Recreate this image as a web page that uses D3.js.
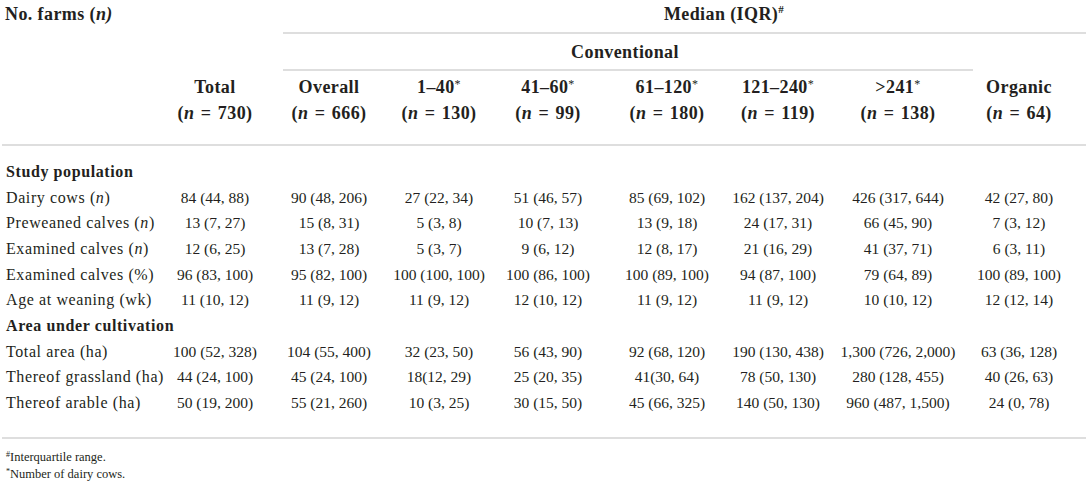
<!DOCTYPE html>
<html>
<head>
<meta charset="utf-8">
<script src="https://cdn.jsdelivr.net/npm/d3@7"></script>
<style>
  body { margin: 0; background: #fff; }
  text { font-family: "Liberation Serif", "Times New Roman", serif; fill: #231f20; }
</style>
</head>
<body>
<div id="table"></div>
<script>
var svgwidth = 1089;
var svgheight = 488;

// column groups
var columns = ["Total", "Overall", "1–40", "41–60", "61–120", "121–240", ">241", "Organic"];
var starred = [false, false, true, true, true, true, true, false];
var farmCounts = [730, 666, 130, 99, 180, 119, 138, 64];

// row labels
var sections = ["Study population", "Area under cultivation"];
var studyRows = ["Dairy cows", "Preweaned calves", "Examined calves", "Examined calves (%)", "Age at weaning (wk)"];
var studyUnits = ["n", "n", "n", null, null];
var areaRows = ["Total area (ha)", "Thereof grassland (ha)", "Thereof arable (ha)"];

// median (IQR) per row, one entry per column
var dairyCows = ["84 (44, 88)", "90 (48, 206)", "27 (22, 34)", "51 (46, 57)", "85 (69, 102)", "162 (137, 204)", "426 (317, 644)", "42 (27, 80)"];
var preweaned = ["13 (7, 27)", "15 (8, 31)", "5 (3, 8)", "10 (7, 13)", "13 (9, 18)", "24 (17, 31)", "66 (45, 90)", "7 (3, 12)"];
var examinedN = ["12 (6, 25)", "13 (7, 28)", "5 (3, 7)", "9 (6, 12)", "12 (8, 17)", "21 (16, 29)", "41 (37, 71)", "6 (3, 11)"];
var examinedPct = ["96 (83, 100)", "95 (82, 100)", "100 (100, 100)", "100 (86, 100)", "100 (89, 100)", "94 (87, 100)", "79 (64, 89)", "100 (89, 100)"];
var weaningAge = ["11 (10, 12)", "11 (9, 12)", "11 (9, 12)", "12 (10, 12)", "11 (9, 12)", "11 (9, 12)", "10 (10, 12)", "12 (12, 14)"];
var totalArea = ["100 (52, 328)", "104 (55, 400)", "32 (23, 50)", "56 (43, 90)", "92 (68, 120)", "190 (130, 438)", "1,300 (726, 2,000)", "63 (36, 128)"];
var grassland = ["44 (24, 100)", "45 (24, 100)", "18(12, 29)", "25 (20, 35)", "41(30, 64)", "78 (50, 130)", "280 (128, 455)", "40 (26, 63)"];
var arable = ["50 (19, 200)", "55 (21, 260)", "10 (3, 25)", "30 (15, 50)", "45 (66, 325)", "140 (50, 130)", "960 (487, 1,500)", "24 (0, 78)"];

var footnotes = [["#", "Interquartile range."], ["*", "Number of dairy cows."]];

// build the row list for the body
var bodyRows = [];
bodyRows.push({key: "s0", label: sections[0], section: true});
var studyValues = [dairyCows, preweaned, examinedN, examinedPct, weaningAge];
studyRows.forEach(function(r, i) {
    bodyRows.push({key: "a" + i, label: r, unit: studyUnits[i], values: studyValues[i]});
});
bodyRows.push({key: "s1", label: sections[1], section: true});
var areaValues = [totalArea, grassland, arable];
areaRows.forEach(function(r, i) {
    bodyRows.push({key: "b" + i, label: r, unit: null, values: areaValues[i]});
});

var svg = d3.select("#table").append("svg").attr("width", svgwidth).attr("height", svgheight);

var xCol = d3.scaleOrdinal().domain(columns).range([215, 329, 439, 548, 667, 778, 898, 1019]);
var yRow = d3.scalePoint().domain(bodyRows.map(d => d.key)).range([177, 408]);

var rule = function(x1, x2, y) {
    svg.append("line").attr("x1", x1).attr("x2", x2).attr("y1", y).attr("y2", y)
        .style("stroke", "#d3d3d3").style("stroke-width", 1.6);
};

var bold = function(sel) {
    return sel.style("font-size", "18px").style("font-weight", "bold").style("letter-spacing", "0.4px");
};

// header
var t = bold(svg.append("text").attr("x", 5).attr("y", 20));
t.append("tspan").text("No. farms (");
t.append("tspan").style("font-style", "italic").text("n)");

var med = bold(svg.append("text").attr("x", 724).attr("y", 20).attr("text-anchor", "middle"));
med.append("tspan").text("Median (IQR)");
med.append("tspan").attr("dy", -7).style("font-size", "11px").text("#");
rule(283, 1086, 33);

bold(svg.append("text").attr("x", 625).attr("y", 58).attr("text-anchor", "middle")).text("Conventional");
rule(283, 973, 70);

var head = svg.selectAll(".colhead").data(columns).enter().append("g").attr("class", "colhead");
var h1 = bold(head.append("text").attr("x", d => xCol(d)).attr("y", 93).attr("text-anchor", "middle"));
h1.append("tspan").text(d => d);
h1.append("tspan").attr("dy", -5).style("font-size", "12px").style("font-weight", "normal")
    .text((d, i) => starred[i] ? "*" : "");
var h2 = bold(head.append("text").attr("x", d => xCol(d)).attr("y", 119).attr("text-anchor", "middle"));
h2.append("tspan").text("(");
h2.append("tspan").style("font-style", "italic").text("n");
h2.append("tspan").text((d, i) => "\u2004=\u2004" + farmCounts[i] + ")");
rule(2, 1086, 145);

// body
var rows = svg.selectAll(".row").data(bodyRows).enter().append("g").attr("class", "row")
    .attr("transform", d => `translate(0, ${yRow(d.key)})`);

var lab = rows.append("text").attr("x", 6).style("font-size", "16px").style("letter-spacing", "0.6px")
    .style("font-weight", d => d.section ? "bold" : "normal");
lab.append("tspan").text(d => d.unit ? d.label + " (" : d.label);
lab.append("tspan").style("font-style", "italic").text(d => d.unit ? d.unit : "");
lab.append("tspan").text(d => d.unit ? ")" : "");

rows.filter(d => !d.section).selectAll(".cell")
    .data(d => d.values)
    .enter().append("text")
    .attr("class", "cell")
    .attr("x", (d, i) => xCol(columns[i]))
    .attr("text-anchor", "middle")
    .style("font-size", "15.5px")
    .text(d => d);

rule(2, 1086, 438);

// footnotes
var fn = svg.selectAll(".foot").data(footnotes).enter().append("text").attr("class", "foot")
    .attr("x", 6).attr("y", (d, i) => 461 + i * 17).style("font-size", "12.5px");
fn.append("tspan").attr("dy", -4).style("font-size", "8px").text(d => d[0]);
fn.append("tspan").attr("dy", 4).text(d => d[1]);
</script>
</body>
</html>
